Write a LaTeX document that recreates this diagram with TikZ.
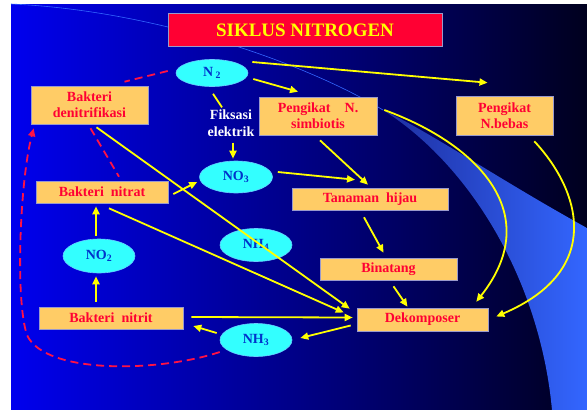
\documentclass[tikz,border=0pt]{standalone}
\usepackage{fontspec}
\setmainfont{Liberation Serif}
\usetikzlibrary{arrows.meta}
\usetikzlibrary{shapes.geometric}

\definecolor{bgleft}{HTML}{0000EE}
\definecolor{bgmid}{HTML}{0000B4}
\definecolor{bgright}{HTML}{00001E}
\definecolor{bandleft}{HTML}{1E2FA0}
\definecolor{bandfill}{HTML}{3366FF}
\definecolor{boxfill}{HTML}{FFCC66}
\definecolor{boxline}{HTML}{9999CC}
\definecolor{boxtext}{HTML}{FF0033}
\definecolor{ovalfill}{HTML}{33FFFF}
\definecolor{ovalline}{HTML}{66CCFF}
\definecolor{ovaltext}{HTML}{0033CC}
\definecolor{flowyellow}{HTML}{FFFF00}
\definecolor{loopred}{HTML}{FF1144}
\definecolor{titlefill}{HTML}{FF0033}

\begin{document}
\begin{tikzpicture}[x=1pt, y=-1pt,
    box/.style={rectangle, draw=boxline, line width=0.6pt, fill=boxfill, text=boxtext, align=center, inner sep=0pt, font=\bfseries\fontsize{14}{16}\selectfont},
    oval/.style={ellipse, draw=ovalline, line width=0.6pt, fill=ovalfill, text=ovaltext, inner sep=0pt, font=\bfseries\fontsize{14}{16}\selectfont},
    flow/.style={draw=flowyellow, line width=1.8pt, -{Triangle[length=8pt,width=7pt]}},
    link/.style={draw=flowyellow, line width=1.8pt},
    backflow/.style={draw=loopred, line width=1.8pt, dash pattern=on 8pt off 5pt}]

    \useasboundingbox (0,0) rectangle (587,410);
    \fill[white] (0,0) rectangle (587,410);
    \shade[left color=bgleft, middle color=bgmid, right color=bgright] (11,4) rectangle (587,410);
    \shade[left color=bandleft, right color=bandfill] (383,110) .. controls (430,132) and (500,180) .. (587,228) -- (587,410) -- (552,410) .. controls (540,280) and (470,165) .. (383,110);
    \draw[bandfill, line width=0.6pt] (11,4) .. controls (150,10) and (300,60) .. (383,110);

    \node[rectangle, draw=boxline, line width=0.6pt, fill=titlefill, text=flowyellow, minimum width=274pt, minimum height=33pt, font=\bfseries\fontsize{19}{22}\selectfont] (title) at (305,30) {SIKLUS NITROGEN};

    \node[oval, minimum width=72pt, minimum height=27pt] (n2) at (212,73) {N\,\textsubscript{2}};
    \node[box, minimum width=117pt, minimum height=38pt] (den) at (89.5,105) {Bakteri\\denitrifikasi};
    \node[text=white, align=center, inner sep=0pt, font=\bfseries\fontsize{14}{17}\selectfont] (fiks) at (231,123) {Fiksasi\\elektrik};
    \node[box, minimum width=118pt, minimum height=38pt] (simb) at (318,116) {Pengikat~~~ N.\\simbiotis};
    \node[box, minimum width=97pt, minimum height=39pt] (bebas) at (504.5,115.5) {Pengikat\\N.bebas};
    \node[oval, minimum width=73pt, minimum height=32pt] (no3) at (236,177) {NO\textsubscript{3}};
    \node[box, minimum width=132pt, minimum height=22pt] (nitrat) at (102,192) {Bakteri~ nitrat};
    \node[box, minimum width=156pt, minimum height=22pt] (tanaman) at (370,199) {Tanaman~ hijau};
    \node[oval, minimum width=72pt, minimum height=33pt] (nh4) at (256,245) {NH\textsubscript{4}};
    \node[oval, minimum width=72pt, minimum height=34pt] (no2) at (99,256) {NO\textsubscript{2}};
    \node[box, minimum width=137pt, minimum height=22pt] (binatang) at (388.5,269) {Binatang};
    \node[box, minimum width=144pt, minimum height=22pt] (nitrit) at (111,318) {Bakteri~ nitrit};
    \node[box, minimum width=131pt, minimum height=23pt] (dekomp) at (422.5,319.5) {Dekomposer};
    \node[oval, minimum width=72pt, minimum height=33pt] (nh3) at (256,340) {NH\textsubscript{3}};

    \draw[flow] ([xshift=5pt,yshift=-6pt]n2.east) -- ([xshift=-20pt,yshift=5pt]simb.north);
    \draw[flow] ([xshift=4pt,yshift=11pt]n2.east) -- ([xshift=-17pt,yshift=13pt]bebas.north);
    \draw[link] ([xshift=1pt,yshift=-7pt]n2.south) -- ([xshift=-9pt,yshift=2pt]fiks.north);
    \draw[flow] ([xshift=2pt,yshift=-6pt]fiks.south) -- ([xshift=-3pt,yshift=2pt]no3.north);
    \draw[flow] ([xshift=5pt,yshift=-2pt]nitrat.east) -- ([xshift=-2pt,yshift=-5pt]no3.west);
    \draw[flow] ([xshift=5pt,yshift=5pt]no3.east) -- ([xshift=-15pt,yshift=8pt]tanaman.north);
    \draw[flow] ([xshift=2pt,yshift=-5pt]simb.south) -- ([xshift=-2pt,yshift=3pt]tanaman.north);
    \draw[flow] ([xshift=-6pt,yshift=-7pt]tanaman.south) -- ([xshift=-5pt,yshift=5pt]binatang.north);
    \draw[flow] ([xshift=5pt,yshift=-6pt]binatang.south) -- ([xshift=-15pt,yshift=1pt]dekomp.north);
    \draw[flow] ([xshift=7pt,yshift=6pt]simb.east) .. controls (480,145) and (545,215) .. ([xshift=-12pt,yshift=6pt]dekomp.north east);
    \draw[flow] ([xshift=-19pt,yshift=-6pt]bebas.south east) .. controls (580,190) and (605,270) .. ([xshift=8pt,yshift=3pt]dekomp.east);
    \draw[flow] ([xshift=7pt,yshift=-3pt]den.south) -- ([xshift=-7pt,yshift=-1pt]dekomp.north west);
    \draw[flow] ([xshift=7pt,yshift=-5pt]nitrat.south) -- ([xshift=-13pt,yshift=7pt]dekomp.west);
    \draw[flow] ([xshift=8pt,yshift=1pt]nitrit.east) -- ([xshift=-4pt,yshift=2pt]dekomp.west);
    \draw[flow] ([xshift=-6pt,yshift=-6pt]dekomp.west) -- ([xshift=8pt,yshift=2pt]nh3.east);
    \draw[flow] ([xshift=-3pt,yshift=7pt]nh3.west) -- ([xshift=10pt,yshift=-8pt]nitrit.east);
    \draw[flow] ([xshift=-3pt,yshift=3pt]no2.north) -- ([xshift=-6pt,yshift=-3pt]nitrat.south);
    \draw[flow] ([xshift=-15pt,yshift=5pt]nitrit.north) -- ([xshift=-3pt,yshift=-3pt]no2.south);

    \draw[backflow] ([xshift=-8pt,yshift=2pt]n2.west) -- ([xshift=35pt,yshift=4pt]den.north);
    \draw[backflow] ([xshift=1pt,yshift=-4pt]den.south) -- ([xshift=17pt,yshift=4pt]nitrat.north);
    \draw[backflow, -{Triangle[length=8pt,width=7pt]}] ([yshift=-12pt]nh3.west) .. controls (160,372) and (45,375) .. (27,335) .. controls (15,300) and (20,180) .. ([xshift=3pt,yshift=-4pt]den.south west);

\end{tikzpicture}
\end{document}
